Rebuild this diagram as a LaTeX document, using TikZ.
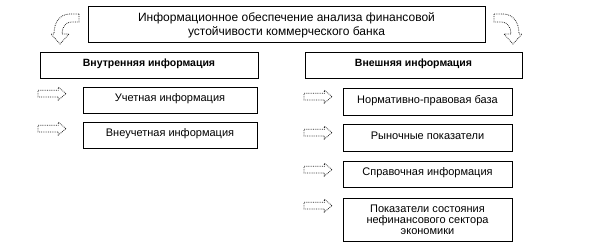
\documentclass[tikz,border=0pt]{standalone}
\usepackage{fontspec}
\setmainfont{Liberation Sans}
\usetikzlibrary{positioning,shapes.arrows}

\tikzset{
  blok/.style={draw, line width=0.8pt, inner sep=0pt, text depth=4pt,
    font=\fontsize{11}{12}\selectfont},
  freccia/.style={single arrow, draw=black!85, densely dotted, line width=0.8pt,
    inner sep=3pt, minimum height=28pt, single arrow head extend=3pt,
    single arrow tip angle=80},
  curva/.style={draw=black!85, densely dotted, line width=0.8pt}
}

\begin{document}
\begin{tikzpicture}[x=1pt, y=-1pt]
\useasboundingbox (0,0) rectangle (602,245);
% Titolo
\node[blok, minimum width=397pt, minimum height=36pt, align=center, text depth=0pt,
  font=\fontsize{12}{14}\selectfont] (titolo) at (286.5,24)
  {Информационное обеспечение анализа финансовой\\устойчивости коммерческого банка};
% Frecce curve ai lati del titolo
\foreach \sx/\dx in {1/0, -1/573}{
  \draw[curva, xshift=\dx pt, xscale=\sx] (79,14) -- (70,14) .. controls (60,14) and (54,22) .. (54,34)
    -- (51,34) -- (60,44) -- (69,34) -- (62,34) .. controls (62,27) and (66,22) .. (71,22) -- (79,22) -- cycle;
}
% Due colonne
\node[blok, font=\fontsize{10.5}{12}\selectfont\bfseries, minimum width=218pt, minimum height=26pt] (interna) at (149,65) {Внутренняя информация};
\node[blok, font=\fontsize{10.5}{12}\selectfont\bfseries, minimum width=217pt, minimum height=26pt] (esterna) at (413.5,65) {Внешняя информация};
% Voci interne
\foreach \yy/\nm/\txt in {100/uchet/Учетная информация, 135/vneuchet/Внеучетная информация}{
  \node[blok, minimum width=174pt, minimum height=26pt] (\nm) at (170,\yy) {\txt};
  \node[freccia, left=16pt of \nm.north west, yshift=-7pt] (f\nm) {};
}
% Voci esterne
\foreach \yy/\hh/\nm/\txt in {101.5/27/norm/Нормативно-правовая база, 137.5/27/rynok/Рыночные показатели, 174/26/sprav/Справочная информация}{
  \node[blok, minimum width=169pt, minimum height=\hh pt] (\nm) at (427.5,\yy) {\txt};
  \node[freccia, left=10pt of \nm.north west, yshift=-9pt] (f\nm) {};
}
\node[blok, align=center, text depth=0pt, font=\fontsize{11}{11}\selectfont, minimum width=169pt, minimum height=43pt] (pokaz) at (427.5,219.5)
  {Показатели состояния\\нефинансового сектора\\экономики};
\node[freccia, left=10pt of pokaz.north west, yshift=-8pt] (fpokaz) {};
\end{tikzpicture}
\end{document}
